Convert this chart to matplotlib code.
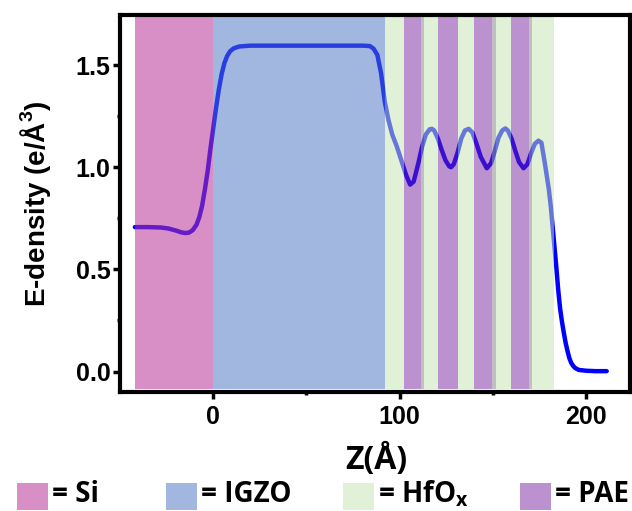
import matplotlib
matplotlib.use("Agg")
import matplotlib.pyplot as plt
from matplotlib.patches import Rectangle

# electron density profile (z in Angstrom)
z = [-42, -35, -28, -24, -20, -17, -15, -13, -11, -9, -7.5, -6, -4.5, -3, -1.5,
     0, 1.5, 3, 4.5, 6, 7.5, 9, 11, 14, 20, 40, 60, 80, 84, 86, 88, 90, 92, 94,
     96, 98.5, 101, 103.5, 105.6, 107.5, 110, 112, 114, 116, 117.2, 118.5, 120.5,
     122.5, 124.5, 126.5, 127.5, 129, 131, 133, 135, 137, 139, 141, 143.5, 146.7,
     149, 151, 153, 155, 156.6, 158, 160, 162, 164, 166.4, 168.5, 170.5, 172.5,
     174.4, 176, 178, 179, 180, 181, 182, 183, 184, 185, 186, 187, 188, 189, 190,
     191, 192, 193, 194, 196, 200, 205, 211]
density = [0.707, 0.707, 0.705, 0.700, 0.690, 0.681, 0.678, 0.680, 0.692, 0.718,
           0.755, 0.810, 0.890, 0.980, 1.090, 1.190, 1.290, 1.380, 1.455, 1.510,
           1.545, 1.567, 1.582, 1.591, 1.595, 1.595, 1.595, 1.595, 1.593, 1.580,
           1.550, 1.460, 1.320, 1.230, 1.160, 1.100, 1.030, 0.960, 0.915, 0.930,
           1.020, 1.100, 1.160, 1.185, 1.188, 1.180, 1.140, 1.085, 1.035, 1.005,
           1.000, 1.015, 1.070, 1.140, 1.180, 1.188, 1.170, 1.120, 1.050, 0.995,
           1.020, 1.080, 1.145, 1.180, 1.190, 1.180, 1.140, 1.080, 1.025, 0.995,
           1.015, 1.070, 1.115, 1.130, 1.120, 1.010, 0.950, 0.890, 0.810, 0.710,
           0.610, 0.510, 0.400, 0.310, 0.245, 0.190, 0.140, 0.100, 0.065, 0.042,
           0.028, 0.018, 0.008, 0.004, 0.002, 0.002]

# layer regions along z
si_region = [(-42, 0)]
igzo_region = [(0, 92)]
hfox_region = [(92, 102.4), (113, 120.7), (131.5, 140), (151.7, 159.8), (171.2, 182.5)]
pae_region = [(102.4, 111.5), (120.7, 131.5), (140, 149.7), (159.8, 169.4)]
gap_region = [(111.5, 113), (149.7, 151.7), (169.4, 171.2)]

legend_names = ["= Si", "= IGZO", "= HfO$_{\\mathdefault{x}}$", "= PAE"]

si_color = (185/255, 51/255, 151/255)
igzo_color = (79/255, 119/255, 196/255)
hfox_color = (196/255, 229/255, 181/255)
pae_color = (118/255, 33/255, 157/255)

fig = plt.figure(figsize=(6.32, 5.11), dpi=100)
ax = fig.add_axes([120/632, 1 - 392/511, 510/632, 377/511])

ax.plot(z, density, color="#0000ff", lw=3.2, solid_joinstyle="round",
        solid_capstyle="round", zorder=1)

ylo, yhi = -0.1, 1.745
span_lo = (-0.083 - ylo) / (yhi - ylo)
span_hi = (1.735 - ylo) / (yhi - ylo)

def draw_spans(regions, color, alpha):
    for x0, x1 in regions:
        ax.axvspan(x0, x1, ymin=span_lo, ymax=span_hi, color=color,
                   alpha=alpha, lw=0, zorder=2)

draw_spans(si_region, si_color, 0.55)
draw_spans(igzo_region, igzo_color, 0.53)
draw_spans(hfox_region, hfox_color, 0.52)
draw_spans(pae_region, pae_color, 0.49)
draw_spans(gap_region, (0.59, 0.59, 0.59), 0.6)

ax.set_xlim(-50, 223.5)
ax.set_ylim(ylo, yhi)
ax.set_xticks([0, 100, 200])
ax.set_xticks([50, 150], minor=True)
ax.set_yticks([0.0, 0.5, 1.0, 1.5])
ax.set_yticks([0.25, 0.75, 1.25], minor=True)
ax.set_yticklabels(["0.0", "0.5", "1.0", "1.5"])

for sp in ax.spines.values():
    sp.set_linewidth(3)
    sp.set_zorder(5)
ax.tick_params(which="major", direction="out", length=5, width=2.5)
ax.tick_params(which="minor", direction="out", length=2.5, width=2.5)
ax.tick_params(axis="x", which="major", pad=4)
ax.tick_params(axis="y", which="major", pad=2)
for lab in ax.get_xticklabels() + ax.get_yticklabels():
    lab.set_fontfamily("Liberation Sans")
    lab.set_fontweight("bold")
    lab.set_fontsize(18)

ax.set_ylabel("E-density (e/Å$^{\\mathdefault{3}}$)", fontsize=20,
              fontweight="bold", family="Liberation Sans", labelpad=16)
fig.text(376/632, 1 - 469/511, "Z(Å)", fontsize=23, fontweight="bold",
         family="Open Sans", ha="center", va="baseline")

# legend row along the bottom
sq_x = [17, 166, 343, 520]
txt_x = [52, 201, 378, 555]
colors = [si_color, igzo_color, hfox_color, pae_color]
alphas = [0.55, 0.53, 0.52, 0.49]
for sx, tx, name, c, a in zip(sq_x, txt_x, legend_names, colors, alphas):
    fig.patches.append(Rectangle((sx/632, 1/511), 31/632, 27/511,
                                 transform=fig.transFigure, facecolor=c,
                                 alpha=a, lw=0))
    fig.text(tx/632, 1 - 502/511, name, fontsize=20, fontweight="bold",
             family="Open Sans", ha="left", va="baseline")

fig.savefig("out.png", dpi=100)
